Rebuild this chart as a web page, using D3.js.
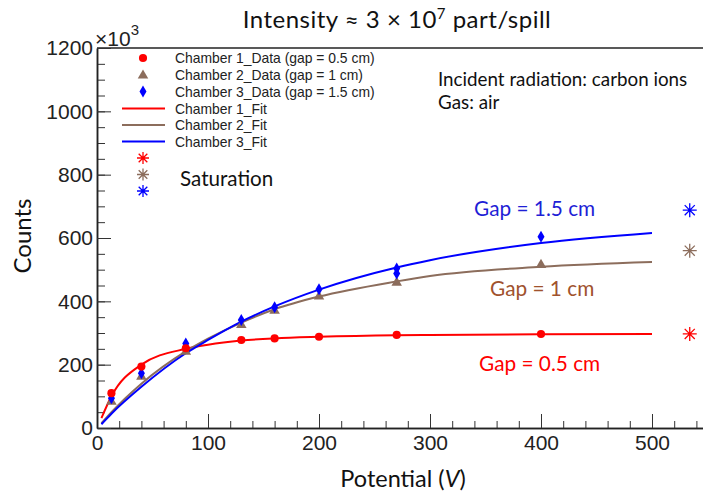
<!DOCTYPE html>
<html>
<head>
<meta charset="utf-8">
<script src="https://cdn.jsdelivr.net/npm/d3@7"></script>
<style>
  body { margin: 0; background: #fff; }
  svg { display: block; }
  .tick text { font-family: "Liberation Sans", Arial, sans-serif; font-size: 21px; fill: #222; }
  .domain { stroke: #222; stroke-width: 1.5; }
</style>
</head>
<body>
<svg id="chart" width="703" height="493"></svg>
<script>
  // measured data (potential in V, counts in units of 10^3)
  var VOLTS = [13, 40, 80, 130, 160, 200, 270, 400]
  var VOLTS_CH3 = [13, 40, 80, 130, 160, 200, 270, 270, 400]
  var COUNTS_CH1 = [110, 194, 252, 278, 283, 288, 294, 297]
  var COUNTS_CH2 = [83, 162, 241, 325, 370, 415, 459, 515]
  var COUNTS_CH3 = [94, 173, 267, 341, 381, 438, 488, 504, 604]

  // fit curves
  var FIT_VOLTS = [4, 13, 40, 80, 100, 130, 160, 200, 270, 300, 400, 500]
  var FIT_CH1 = [31, 100, 200, 250, 263, 276, 283, 288, 293, 294, 296, 297]
  var FIT_CH2 = [15, 50, 140, 242, 282, 333, 375, 415, 463, 480, 509, 524]
  var FIT_CH3 = [12, 45, 130, 236, 278, 336, 384, 437, 507, 530, 584, 616]

  // saturation values
  var SAT_VOLT = 534
  var SAT_COUNTS = [297, 560, 688]

  var COLORS = ['#ff0000', '#8c6d5c', '#0000ff']
  var LABEL_COLORS = ['#ff0000', '#a0522d', '#1f1fd6']
  var LEGEND_DATA = ['Chamber 1_Data (gap = 0.5 cm)', 'Chamber 2_Data (gap = 1 cm)', 'Chamber 3_Data (gap = 1.5 cm)']
  var LEGEND_FIT = ['Chamber 1_Fit', 'Chamber 2_Fit', 'Chamber 3_Fit']
  var GAP_LABELS = ['Gap = 0.5 cm', 'Gap = 1 cm', 'Gap = 1.5 cm']

  var svg = d3.select('#chart')
  var x = d3.scaleLinear().domain([0, 550]).range([97, 707.5])
  var y = d3.scaleLinear().domain([0, 1200]).range([428, 48])

  var calibri = 'Lato, "Open Sans", sans-serif'
  var helv = '"Liberation Sans", Arial, sans-serif'

  // frame
  svg.append('line').attr('x1', x(0)).attr('x2', 703).attr('y1', y(1200)).attr('y2', y(1200))
    .attr('stroke', '#222').attr('stroke-width', 1.5)

  // axes: major + minor ticks inside
  function greyTicks (g) { g.selectAll('.tick line').attr('stroke', '#333') }
  svg.append('g').attr('transform', 'translate(0,' + y(0) + ')')
    .call(d3.axisBottom(x).tickValues(d3.range(0, 560, 20)).tickSize(-7).tickSizeOuter(0).tickFormat(''))
    .call(greyTicks)
  svg.append('g').attr('transform', 'translate(0,' + y(0) + ')')
    .call(d3.axisBottom(x).tickValues(d3.range(0, 600, 100)).tickSize(-14).tickSizeOuter(0)
      .tickPadding(7).tickFormat(d3.format('d')))
    .call(greyTicks)

  svg.append('g').attr('transform', 'translate(' + x(0) + ',0)')
    .call(d3.axisLeft(y).tickValues(d3.range(0, 1250, 50)).tickSize(-8).tickSizeOuter(0).tickFormat(''))
    .call(greyTicks)
  svg.append('g').attr('transform', 'translate(' + x(0) + ',0)')
    .call(d3.axisLeft(y).tickValues(d3.range(0, 1400, 200)).tickSize(-14).tickSizeOuter(0)
      .tickPadding(4).tickFormat(d3.format('d')))
    .call(greyTicks)

  // exponent
  var ex = svg.append('text').attr('x', x(0) - 2).attr('y', 46)
    .attr('font-family', helv).attr('font-size', 21).attr('fill', '#222')
  ex.append('tspan').text('×10')
  ex.append('tspan').attr('dy', -11).attr('font-size', 15).text('3')

  // axis titles
  svg.append('text').attr('x', 403).attr('y', 487).attr('text-anchor', 'middle')
    .attr('font-family', calibri).attr('font-size', 23.5).attr('fill', '#111')
    .call(function (t) {
      t.append('tspan').text('Potential (')
      t.append('tspan').attr('font-style', 'italic').text('V')
      t.append('tspan').text(')')
    })
  svg.append('text').attr('transform', 'translate(31,236) rotate(-90)').attr('text-anchor', 'middle')
    .attr('font-family', calibri).attr('font-size', 24).attr('fill', '#111').text('Counts')

  // title
  svg.append('text').attr('x', 397).attr('y', 28).attr('text-anchor', 'middle')
    .attr('font-family', calibri).attr('font-size', 24).attr('letter-spacing', 0.5).attr('fill', '#111')
    .call(function (t) {
      t.append('tspan').text('Intensity ≈ 3 × 10')
      t.append('tspan').attr('dy', -9).attr('font-size', 15).text('7')
      t.append('tspan').attr('dy', 9).text(' part/spill')
    })

  svg.append('text').attr('x', 438).attr('y', 86)
    .attr('font-family', calibri).attr('font-size', 18.8).attr('fill', '#111')
    .text('Incident radiation: carbon ions')
  svg.append('text').attr('x', 438).attr('y', 109)
    .attr('font-family', calibri).attr('font-size', 18.8).attr('fill', '#111')
    .text('Gas: air')

  // fit curves
  var line = d3.line()
    .x(function (d) { return x(d[0]) })
    .y(function (d) { return y(d[1]) })
    .curve(d3.curveMonotoneX)
  var fits = [FIT_CH1, FIT_CH2, FIT_CH3]
  fits.forEach(function (fit, i) {
    svg.append('path')
      .datum(FIT_VOLTS.map(function (v, j) { return [v, fit[j]] }))
      .attr('d', line).attr('fill', 'none')
      .attr('stroke', COLORS[i]).attr('stroke-width', 2)
  })

  // markers
  var circleSym = d3.symbol().type(d3.symbolCircle).size(52)
  var triSym = d3.symbol().type(d3.symbolTriangle).size(48)
  function diamond (w, h) {
    return 'M0,' + (-h) + 'L' + w + ',0L0,' + h + 'L' + (-w) + ',0Z'
  }
  function star (r) {
    var d = r * 0.72
    return 'M' + (-r) + ',0H' + r + 'M0,' + (-r) + 'V' + r +
      'M' + (-d) + ',' + (-d) + 'L' + d + ',' + d + 'M' + (-d) + ',' + d + 'L' + d + ',' + (-d)
  }

  svg.append('g').selectAll('path').data(COUNTS_CH2).join('path')
    .attr('transform', function (d, i) { return 'translate(' + x(VOLTS[i]) + ',' + y(d) + ')' })
    .attr('d', triSym).attr('fill', COLORS[1])
  svg.append('g').selectAll('path').data(COUNTS_CH3).join('path')
    .attr('transform', function (d, i) { return 'translate(' + x(VOLTS_CH3[i]) + ',' + y(d) + ')' })
    .attr('d', diamond(3.5, 6)).attr('fill', COLORS[2])
  svg.append('g').selectAll('path').data(COUNTS_CH1).join('path')
    .attr('transform', function (d, i) { return 'translate(' + x(VOLTS[i]) + ',' + y(d) + ')' })
    .attr('d', circleSym).attr('fill', COLORS[0])

  // saturation stars
  svg.append('g').selectAll('path').data(SAT_COUNTS).join('path')
    .attr('transform', function (d) { return 'translate(' + x(SAT_VOLT) + ',' + y(d) + ')' })
    .attr('d', star(7)).attr('fill', 'none')
    .attr('stroke', function (d, i) { return COLORS[i] }).attr('stroke-width', 1.3)

  // gap labels
  var gapPos = [[479, 371], [490, 296], [474, 216]]
  GAP_LABELS.forEach(function (t, i) {
    svg.append('text').attr('x', gapPos[i][0]).attr('y', gapPos[i][1])
      .attr('font-family', calibri).attr('font-size', 20.8).attr('fill', LABEL_COLORS[i]).text(t)
  })

  // legend
  var lg = svg.append('g')
  var rowY = [58, 74.5, 91.5, 108.5, 125, 141.5]
  var mx = 143
  lg.append('path').attr('transform', 'translate(' + mx + ',' + rowY[0] + ')').attr('d', circleSym).attr('fill', COLORS[0])
  lg.append('path').attr('transform', 'translate(' + mx + ',' + (rowY[1] + 1) + ')').attr('d', triSym).attr('fill', COLORS[1])
  lg.append('path').attr('transform', 'translate(' + mx + ',' + rowY[2] + ')').attr('d', diamond(3.5, 6)).attr('fill', COLORS[2])
  LEGEND_DATA.concat(LEGEND_FIT).forEach(function (t, i) {
    lg.append('text').attr('x', 175).attr('y', rowY[i] + 5)
      .attr('font-family', helv).attr('font-size', 13.9).attr('fill', '#222').text(t)
  })
  COLORS.forEach(function (c, i) {
    lg.append('line').attr('x1', 122).attr('x2', 165)
      .attr('y1', rowY[3 + i]).attr('y2', rowY[3 + i])
      .attr('stroke', c).attr('stroke-width', 2)
  })
  var starY = [158, 174.5, 191]
  COLORS.forEach(function (c, i) {
    lg.append('path').attr('transform', 'translate(' + mx + ',' + starY[i] + ')')
      .attr('d', star(6)).attr('fill', 'none').attr('stroke', c).attr('stroke-width', 1.3)
  })
  lg.append('text').attr('x', 180).attr('y', 186)
    .attr('font-family', calibri).attr('font-size', 20.6).attr('fill', '#111').text('Saturation')
</script>
</body>
</html>
